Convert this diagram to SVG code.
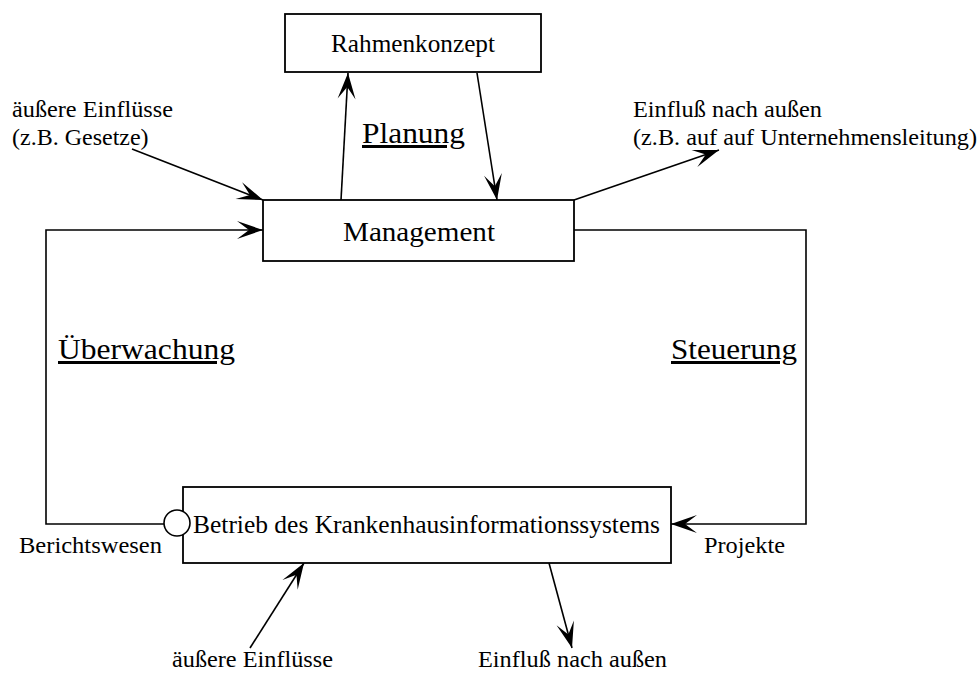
<svg xmlns="http://www.w3.org/2000/svg" width="980" height="674" viewBox="0 0 980 674">
<style>
text{font-family:"Liberation Serif","Times New Roman",serif;fill:#000}
.box{fill:#fff;stroke:#000;stroke-width:1.8}
.c{fill:none;stroke:#000;stroke-width:1.6}
.s{font-size:24px}
.u{font-size:30px;text-decoration:underline}
</style>
<defs>
<marker id="ah" viewBox="-28 -10 30 20" refX="0" refY="0" markerWidth="30" markerHeight="20" markerUnits="userSpaceOnUse" orient="auto">
<path d="M0,0 L-26,-9 L-14,0 L-26,9 Z" fill="#000"/>
</marker>
</defs>
<g id="connectors">
<line class="c" x1="341" y1="200" x2="348" y2="73" marker-end="url(#ah)"/>
<line class="c" x1="477" y1="73" x2="497" y2="200" marker-end="url(#ah)"/>
<line class="c" x1="132" y1="149" x2="263" y2="200" marker-end="url(#ah)"/>
<line class="c" x1="574" y1="200" x2="719" y2="150" marker-end="url(#ah)"/>
<polyline class="c" points="164,524 46,524 46,230 263,230" marker-end="url(#ah)"/>
<polyline class="c" points="574,230 806,230 806,524 671,524" marker-end="url(#ah)"/>
<line class="c" x1="250" y1="648" x2="304" y2="563" marker-end="url(#ah)"/>
<line class="c" x1="549" y1="563" x2="572" y2="648" marker-end="url(#ah)"/>
</g>
<g id="rahmenkonzept">
<rect class="box" x="285" y="14" width="256" height="58"/>
<text x="331" y="52" font-size="26" textLength="164" lengthAdjust="spacingAndGlyphs">Rahmenkonzept</text>
</g>
<g id="management">
<rect class="box" x="263" y="200" width="311" height="61"/>
<text x="343" y="241" font-size="28" textLength="152" lengthAdjust="spacingAndGlyphs">Management</text>
</g>
<g id="betrieb">
<rect class="box" x="183" y="487" width="488" height="76"/>
<circle cx="177" cy="523" r="13" fill="#fff" stroke="#000" stroke-width="1.6"/>
<text x="193" y="533" font-size="26" textLength="467" lengthAdjust="spacingAndGlyphs">Betrieb des Krankenhausinformationssystems</text>
</g>
<g id="labels">
<text class="u" x="362" y="143" textLength="103" lengthAdjust="spacingAndGlyphs">Planung</text>
<text class="u" x="58" y="359" textLength="177" lengthAdjust="spacingAndGlyphs">Überwachung</text>
<text class="u" x="671" y="359" textLength="126" lengthAdjust="spacingAndGlyphs">Steuerung</text>
<text class="s" x="12" y="117" textLength="161" lengthAdjust="spacingAndGlyphs">äußere Einflüsse</text>
<text class="s" x="12" y="145">(z.B. Gesetze)</text>
<text class="s" x="633" y="117" textLength="189" lengthAdjust="spacingAndGlyphs">Einfluß nach außen</text>
<text class="s" x="633" y="145" textLength="344" lengthAdjust="spacingAndGlyphs">(z.B. auf auf Unternehmensleitung)</text>
<text class="s" x="19" y="553" textLength="143" lengthAdjust="spacingAndGlyphs">Berichtswesen</text>
<text class="s" x="704" y="553" textLength="81" lengthAdjust="spacingAndGlyphs">Projekte</text>
<text class="s" x="172" y="667" textLength="161" lengthAdjust="spacingAndGlyphs">äußere Einflüsse</text>
<text class="s" x="478" y="667" textLength="189" lengthAdjust="spacingAndGlyphs">Einfluß nach außen</text>
</g>
</svg>
